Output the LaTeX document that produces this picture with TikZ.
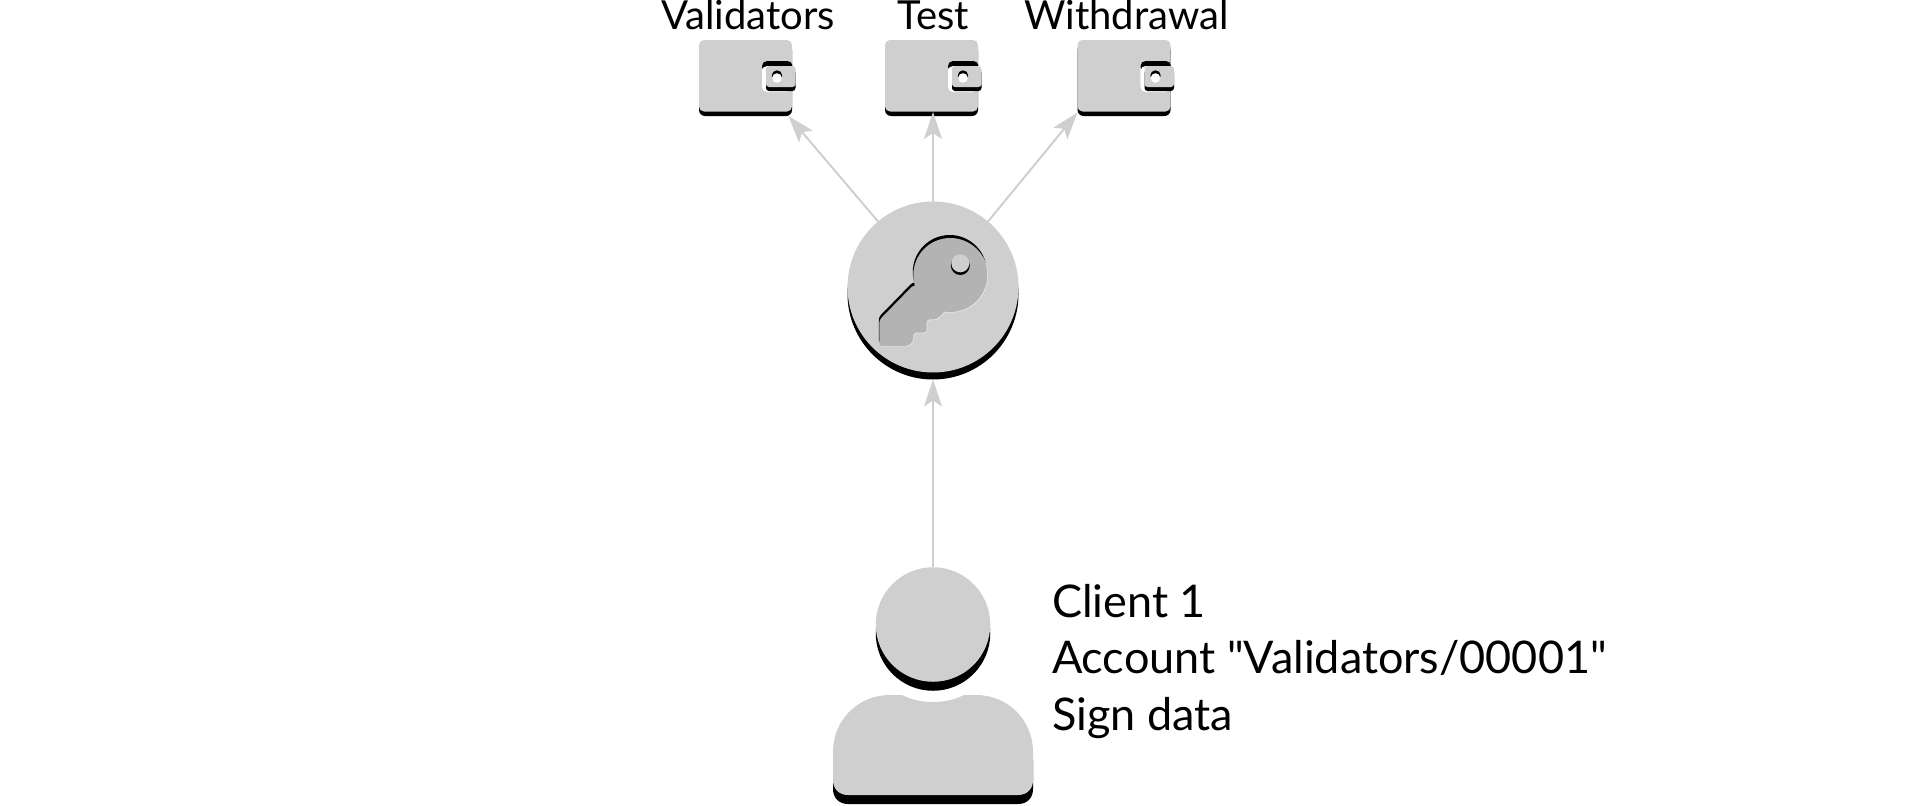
\documentclass[tikz,border=0pt]{standalone}
\usepackage{fontspec}
\newfontfamily\lat{Lato}
\usetikzlibrary{arrows.meta}
\definecolor{ic}{HTML}{CFCFCF}
\definecolor{kc}{HTML}{B3B3B3}
\definecolor{ke}{HTML}{E6E6E6}
\tikzset{
  walletback/.style={fill=black,rounded corners=6pt,minimum width=93pt,minimum height=72pt,inner sep=0pt,outer sep=0pt},
  disc/.style={circle,inner sep=0pt,outer sep=0pt,minimum size=#1},
  link/.style={draw=ic,line width=2pt,-{Stealth[length=27pt,width=18pt,inset=6pt]}},
  lbl/.style={font=\lat\fontsize{40}{48}\selectfont,text=black,inner sep=0pt,outer sep=0pt},
  blk/.style={font=\lat\fontsize{45}{56.3}\selectfont,text=black,inner sep=0pt,outer sep=0pt}
}
\newcommand{\walletart}[1]{%
  \begin{scope}[shift={(#1,0)}]
    \fill[ic,rounded corners=5pt] (0,40) rectangle (93,111.5);
    \fill[white,rounded corners=5pt] (63,61) -- (93,61) -- (93,92) -- (63,92) -- cycle;
    \fill[black,rounded corners=5pt] (63,61) -- (93.5,61) -- (93.5,72) -- (63,72) -- cycle;
    \fill[white,rounded corners=5pt] (63,66) -- (93,66) -- (93,90) -- (63,90) -- cycle;
    \fill[black,rounded corners=3pt] (67,70) rectangle (96.5,91);
    \fill[ic,rounded corners=3pt] (67,66) rectangle (96.5,87);
    \fill[black] (78,75.5) circle (5.2);
    \fill[white] (78,78) circle (4.8);
  \end{scope}}
\newcommand{\keyart}[3]{%
  \begin{scope}[shift={(#1,#2)}]
    \fill[#3] (950.3,275) circle (37);
    \fill[#3,rounded corners=3pt] (913.5,285) -- (879.3,320) -- (879.3,346) -- (908.3,346) -- (913.3,341) -- (913.3,332.7) -- (926.7,332.7) -- (926.7,319.3) -- (936.7,319.3) -- (945,311) -- (960,290) -- cycle;
  \end{scope}}
\newcommand{\personbody}[2]{%
  \fill[#2] (833,752+#1) .. controls (833,720+#1) and (858,695+#1) .. (890,695+#1)
    -- (902,695+#1) .. controls (912,700+#1) and (922,702+#1) .. (933,702+#1)
    .. controls (944,702+#1) and (954,700+#1) .. (964,695+#1)
    -- (976,695+#1) .. controls (1008,695+#1) and (1033,720+#1) .. (1033,752+#1)
    -- (1033,780+#1) .. controls (1033,789+#1) and (1027,795+#1) .. (1018,795+#1)
    -- (848,795+#1) .. controls (839,795+#1) and (833,789+#1) .. (833,780+#1) -- cycle;}
\begin{document}
\begin{tikzpicture}[x=1pt,y=-1pt]
  \useasboundingbox (0,0) rectangle (1920,806);
  % wallets
  \node[walletback] (w1) at (745.5,80) {};
  \node[walletback] (w2) at (931.5,80) {};
  \node[walletback] (w3) at (1124,80) {};
  \walletart{699}
  \walletart{885}
  \walletart{1077.5}
  \coordinate (w2tip) at (933,112);
  % key disc
  \node[disc=171pt,fill=black] (kb) at (933,294) {};
  \node[disc=171pt,fill=ic] (kf) at (933,287) {};
  \keyart{-0.5}{-3}{black}
  \keyart{0.7}{0.7}{ke}
  \keyart{0}{0}{kc}
  \fill[black] (960.3,265.5) circle (9.5);
  \fill[ic] (960.3,263.3) circle (9);
  % person
  \node[disc=114.5pt,fill=black] (hb) at (933,633.5) {};
  \node[disc=114.5pt,fill=ic] (hf) at (933,624.5) {};
  \personbody{9}{black}
  \personbody{0}{ic}
  % connectors
  \draw[link] (kf.130) -- (w1.-40.3);
  \draw[link] (kf.north) -- (w2tip);
  \draw[link] (kf.50) -- (w3.215.6);
  \draw[link] (hf.north) -- (kb.south);
  % labels
  \node[lbl,anchor=base] (l1) at (748,29.5) {Validators};
  \node[lbl,anchor=base] (l2) at (933,29.5) {Test};
  \node[lbl,anchor=base] (l3) at (1126.5,29.5) {Withdrawal};
  \node[blk,anchor=west,align=left] (t) at (1052,661.5) {Client 1\\Account "Validators/00001"\\Sign data};
\end{tikzpicture}
\end{document}
